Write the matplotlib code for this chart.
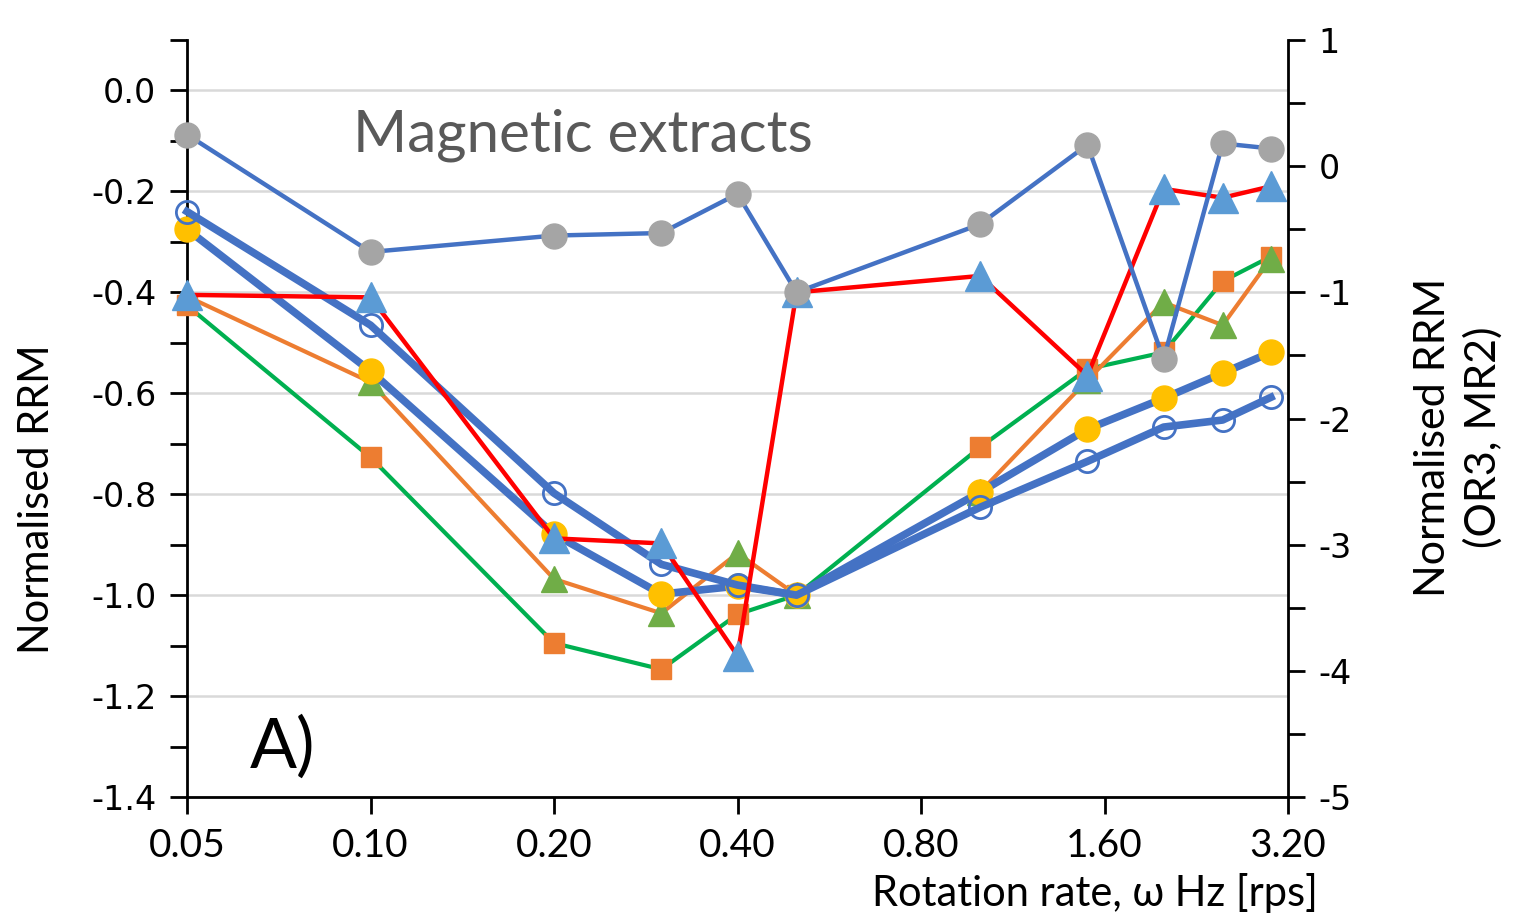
import matplotlib
matplotlib.use("Agg")
import matplotlib.pyplot as plt
from matplotlib.ticker import FixedLocator, MultipleLocator, NullFormatter

plt.rcParams['font.family'] = ['Lato', 'DejaVu Sans']
plt.rcParams['axes.unicode_minus'] = False

# rotation rate (Hz)
rate = [0.05, 0.1, 0.2, 0.3, 0.4, 0.5, 1.0, 1.5, 2.0, 2.5, 3.0]
xticks = [0.05, 0.1, 0.2, 0.4, 0.8, 1.6, 3.2]
yticks_left = [-1.4, -1.2, -1.0, -0.8, -0.6, -0.4, -0.2, 0.0]
yticks_right = [-5, -4, -3, -2, -1, 0, 1]

# left axis series
open_circ = [-0.240, -0.465, -0.798, -0.939, -0.980, -1.0, -0.826, -0.735, -0.667, -0.653, -0.608]
yellow_circ = [-0.275, -0.556, -0.879, -0.998, -0.982, -1.0, -0.796, -0.671, -0.610, -0.560, -0.519]
orange_sq = [-0.426, -0.727, -1.095, -1.147, -1.038, -1.0, -0.707, -0.552, -0.519, -0.378, -0.329]
green_tri = [-0.408, -0.578, -0.968, -1.036, -0.917, -1.0, -0.796, -0.574, -0.420, -0.465, -0.333]

# right axis series (OR3, MR2)
grey_circ = [0.25, -0.68, -0.55, -0.53, -0.22, -1.0, -0.46, 0.17, -1.53, 0.18, 0.14]
blue_tri = [-1.02, -1.04, -2.95, -2.99, -3.88, -1.0, -0.87, -1.66, -0.18, -0.25, -0.16]

fig = plt.figure(figsize=(15.17, 9.24), dpi=100)
ax1 = fig.add_axes([187/1517, 1-797/924, (1288-187)/1517, (797-40)/924])
ax2 = ax1.twinx()

# left series
ax1.plot(rate, orange_sq, color='#00B050', lw=3, marker='s', ms=15,
         mfc='#ED7D31', mec='#ED7D31', zorder=3, clip_on=False)
ax1.plot(rate, green_tri, color='#ED7D31', lw=3, marker='^', ms=19,
         mfc='#70AD47', mec='#70AD47', zorder=4, clip_on=False)
ax1.plot(rate, yellow_circ, color='#4472C4', lw=5.5, marker='o', ms=18,
         mfc='#FFC000', mec='#FFC000', zorder=5, clip_on=False)
ax1.plot(rate, open_circ, color='#4472C4', lw=5.5, marker='o', ms=16,
         mfc='none', mec='#4472C4', mew=2, zorder=6, clip_on=False)

# right series
ax2.plot(rate, blue_tri, color='#FF0000', lw=3.2, marker='^', ms=21,
         mfc='#5B9BD5', mec='#5B9BD5', zorder=3, clip_on=False)
ax2.plot(rate, grey_circ, color='#4472C4', lw=3.2, marker='o', ms=18,
         mfc='#A5A5A5', mec='#A5A5A5', zorder=4, clip_on=False)

ax1.set_xscale('log', base=2)
ax1.set_xlim(0.05, 3.2)
ax1.xaxis.set_major_locator(FixedLocator(xticks))
ax1.xaxis.set_minor_locator(FixedLocator([]))
ax1.xaxis.set_minor_formatter(NullFormatter())
ax1.set_xticklabels(['%.2f' % v for v in xticks], family='Lato', fontsize=28)

ax1.set_ylim(-1.4, 0.1)
ax1.yaxis.set_major_locator(FixedLocator(yticks_left))
ax1.yaxis.set_minor_locator(MultipleLocator(0.1))
ax1.set_yticklabels(['%.1f' % v for v in yticks_left], family='DejaVu Sans', fontsize=24)
ax1.grid(axis='y', which='major', color='#D9D9D9', lw=1.8)
ax1.set_axisbelow(True)

ax2.set_ylim(-5, 1)
ax2.yaxis.set_major_locator(FixedLocator(yticks_right))
ax2.yaxis.set_minor_locator(MultipleLocator(0.5))
ax2.set_yticklabels(['%d' % v for v in yticks_right], family='DejaVu Sans', fontsize=24)

for ax in (ax1, ax2):
    ax.spines['top'].set_visible(False)
    for s in ('left', 'right', 'bottom'):
        ax.spines[s].set_linewidth(2)
ax2.spines['left'].set_visible(False)
ax2.spines['bottom'].set_visible(False)
ax1.spines['right'].set_visible(False)

ax1.tick_params(axis='y', which='both', direction='out', length=12, width=2, pad=10)
ax1.tick_params(axis='x', which='major', direction='out', length=12, width=2, pad=10)
ax2.tick_params(axis='y', which='both', direction='out', length=12, width=2, pad=10)

ax1.text(0.151, 0.8745, 'Magnetic extracts', transform=ax1.transAxes,
         fontsize=42, color='#595959', va='center', ha='left')
ax1.text(0.057, 0.065, 'A)', transform=ax1.transAxes,
         fontsize=50, color='black', va='center', ha='left')

fig.text(37/1517, 1-499/924, 'Normalised RRM', rotation=90, fontsize=30,
         ha='center', va='center')
fig.text(1458/1517, 1-437/924, 'Normalised RRM\n(OR3, MR2)', rotation=90,
         fontsize=31, ha='center', va='center', multialignment='center',
         linespacing=1.35)
fig.text(1318/1517, 1-893/924, 'Rotation rate, ω Hz [rps]', fontsize=30,
         ha='right', va='center')

fig.savefig('out.png', dpi=100)
